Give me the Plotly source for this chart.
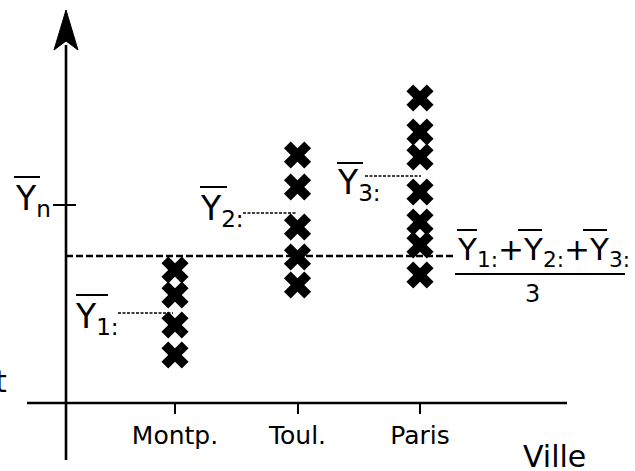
import plotly.graph_objects as go

# ---- data (arbitrary units) ----
categories = ["Montp.", "Toul.", "Paris"]
montp_vals = [13.3, 10.8, 7.8, 4.8]
toul_vals = [24.8, 21.6, 17.6, 14.6, 11.8]
paris_vals = [30.5, 27.1, 24.6, 21.1, 18.1, 15.8, 12.8]
group_means = [9.0, 19.0, 22.7]
grand_mean = 14.7
overall_mean = 19.8
group_labels = ["1:", "2:", "3:"]

W, H = 635, 471
B = 68            # bottom margin: x axis sits on the plot-area bottom
PH = H - B


def px(x):
    return x / W


def py(y):
    return (PH - y) / PH


FONT = "DejaVu Sans"
fig = go.Figure()

for cat, vals in zip(categories, [montp_vals, toul_vals, paris_vals]):
    fig.add_trace(go.Scatter(
        x=[cat] * len(vals), y=vals, mode="markers",
        marker=dict(symbol="x", size=24, color="black", line=dict(width=0)),
        showlegend=False, hoverinfo="skip"))

shapes = []
line_w = 2.6
# axes
shapes.append(dict(type="line", xref="paper", yref="paper",
                   x0=px(27), x1=px(567), y0=py(403), y1=py(403),
                   line=dict(color="black", width=line_w)))
shapes.append(dict(type="line", xref="paper", yref="paper",
                   x0=px(66), x1=px(66), y0=py(45), y1=py(460),
                   line=dict(color="black", width=line_w)))
# arrow head
shapes.append(dict(type="path", xref="paper", yref="paper",
                   path=f"M {px(66)} {py(10)} L {px(54)} {py(50)} L {px(66)} {py(41)} "
                        f"L {px(78)} {py(50)} Z",
                   fillcolor="black", line=dict(color="black", width=1)))
# Y_n tick
shapes.append(dict(type="line", xref="paper", yref="y",
                   x0=px(53), x1=px(76), y0=overall_mean, y1=overall_mean,
                   line=dict(color="black", width=2)))
# grand mean dashed line
shapes.append(dict(type="line", xref="paper", yref="y",
                   x0=px(66), x1=px(455), y0=grand_mean, y1=grand_mean,
                   line=dict(color="black", width=2.4, dash="7px,3px")))
# group mean dotted segments
seg_px = [(118, 173), (243, 297), (365, 421)]
for (a, b), m in zip(seg_px, group_means):
    shapes.append(dict(type="line", xref="paper", yref="y",
                       x0=px(a), x1=px(b), y0=m, y1=m,
                       line=dict(color="black", width=1.3, dash="3px,1.5px")))
# fraction bar
shapes.append(dict(type="line", xref="paper", yref="paper",
                   x0=px(455), x1=px(625), y0=py(274), y1=py(274),
                   line=dict(color="black", width=2)))
# overlines
over = [(14, 40, 177), (76, 108, 295), (200, 227, 187), (337, 363, 163),
        (457, 477, 230), (518, 542, 230), (583, 607, 230)]
for a, b, y in over:
    shapes.append(dict(type="line", xref="paper", yref="paper",
                       x0=px(a), x1=px(b), y0=py(y), y1=py(y),
                       line=dict(color="black", width=2)))

ann = []


def text(t, x, y, size, xanchor="left"):
    ann.append(dict(text=t, x=px(x), y=py(y), xref="paper", yref="paper",
                    xanchor=xanchor, yanchor="middle", showarrow=False,
                    font=dict(family=FONT, size=size, color="black")))


text("Y<sub>n</sub>", 13, 200, 33)
for (x, y), lab in zip([(73, 318), (198, 211), (335, 184)], group_labels):
    text(f"Y<sub>{lab}</sub>", x, y, 33)
text("Y<sub>1:</sub>+Y<sub>2:</sub>+Y<sub>3:</sub>", 455, 251, 31)
text("3", 532, 294, 24, "center")
text("Ville", 521, 456, 30)
text("t", 9, 381, 30, "right")

fig.update_layout(
    width=W, height=H,
    margin=dict(l=0, r=0, t=0, b=B, pad=0),
    paper_bgcolor="white", plot_bgcolor="white",
    xaxis=dict(type="category", categoryarray=categories,
               range=[-175 / 122.5, (W - 175) / 122.5],
               showgrid=False, zeroline=False, showline=False,
               ticks="outside", ticklen=10, tickwidth=2, tickcolor="black",
               tickfont=dict(family=FONT, size=25, color="black")),
    yaxis=dict(range=[0, PH / 10], showgrid=False, zeroline=False,
               showline=False, showticklabels=False, ticks=""),
    shapes=shapes, annotations=ann,
)
fig.write_html("out.html", config={"displayModeBar": False},
               post_script="document.body.style.margin='0';"
                           "document.body.style.overflow='hidden';")
